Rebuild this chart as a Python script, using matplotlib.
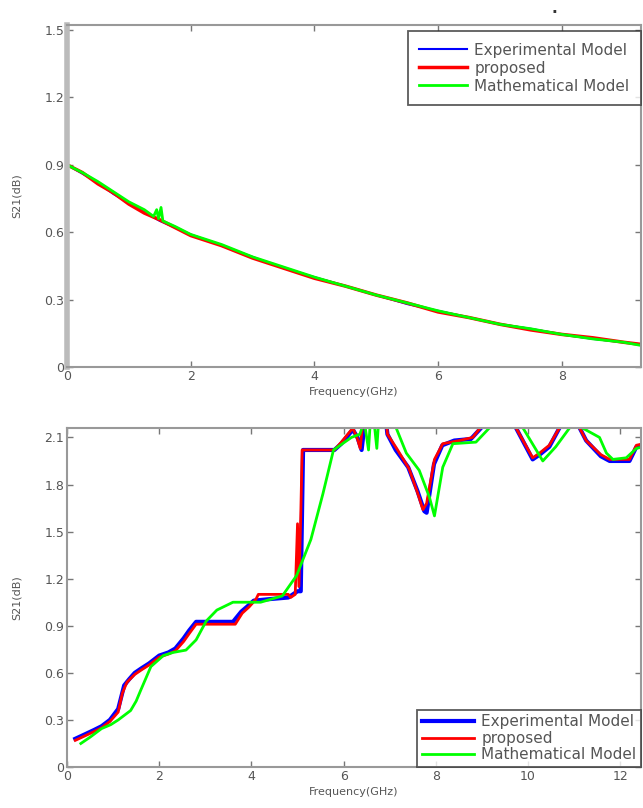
import matplotlib
matplotlib.use("Agg")
import matplotlib.pyplot as plt

# ---- top panel data (S21 vs frequency) ----
f_top = [0, 0.25, 0.5, 0.75, 1.0, 1.25, 1.5, 1.75, 2.0, 2.5, 3.0, 3.5, 4.0,
         4.5, 5.0, 5.5, 6.0, 6.5, 7.0, 7.5, 8.0, 8.5, 9.0, 9.3]
exp_top = [0.90, 0.86, 0.82, 0.77, 0.73, 0.69, 0.65, 0.62, 0.59, 0.54, 0.49, 0.44, 0.40,
           0.36, 0.32, 0.28, 0.25, 0.22, 0.19, 0.17, 0.145, 0.125, 0.11, 0.10]
prop_top = [0.90, 0.865, 0.815, 0.775, 0.725, 0.685, 0.655, 0.62, 0.585, 0.54, 0.485, 0.44, 0.395,
            0.36, 0.32, 0.285, 0.245, 0.22, 0.19, 0.165, 0.145, 0.13, 0.11, 0.10]
f_math_top = [0, 0.25, 0.5, 0.75, 1.0, 1.25, 1.4, 1.45, 1.48, 1.52, 1.55, 1.75, 2.0, 2.5,
              3.0, 3.5, 4.0, 4.5, 5.0, 5.5, 6.0, 6.5, 7.0, 7.5, 8.0, 8.5, 9.0, 9.3]
math_top = [0.90, 0.865, 0.825, 0.78, 0.735, 0.70, 0.67, 0.70, 0.66, 0.71, 0.65, 0.625, 0.59, 0.545,
            0.49, 0.445, 0.40, 0.36, 0.32, 0.285, 0.25, 0.22, 0.19, 0.17, 0.145, 0.125, 0.11, 0.095]

# ---- bottom panel data ----
f_exp = [0.18, 0.4, 0.58, 0.75, 0.93, 1.11, 1.24, 1.35, 1.47, 1.62, 1.78, 2.0, 2.2, 2.35,
         2.53, 2.65, 2.8, 3.6, 3.78, 3.9, 4.05, 4.4, 4.8, 5.0, 5.07, 5.12, 5.8, 5.95, 6.2,
         6.3, 6.39, 6.5, 6.88, 6.95, 7.13, 7.4, 7.6, 7.75, 7.8, 7.96, 8.14, 8.4, 8.76,
         8.98, 9.1, 9.65, 9.74, 10.1, 10.25, 10.46, 10.68, 10.8, 11.0, 11.12, 11.26,
         11.58, 11.77, 12.2, 12.35, 12.5]
s_exp = [0.18, 0.21, 0.235, 0.26, 0.30, 0.37, 0.52, 0.56, 0.60, 0.63, 0.66, 0.71, 0.73, 0.755,
         0.82, 0.87, 0.925, 0.925, 0.99, 1.02, 1.06, 1.07, 1.08, 1.12, 1.12, 2.02, 2.02, 2.06, 2.15,
         2.10, 2.02, 2.3, 2.3, 2.12, 2.02, 1.91, 1.76, 1.63, 1.62, 1.93, 2.05, 2.08, 2.09,
         2.16, 2.3, 2.3, 2.16, 1.96, 1.99, 2.04, 2.16, 2.3, 2.3, 2.16, 2.08,
         1.98, 1.95, 1.95, 2.04, 2.05]

f_prop = [0.18, 0.4, 0.58, 0.75, 0.93, 1.11, 1.2, 1.3, 1.47, 1.62, 1.78, 2.0, 2.2, 2.35,
          2.53, 2.65, 2.8, 3.65, 3.8, 3.95, 4.1, 4.15, 4.8, 4.85, 4.95, 5.0, 5.03, 5.07, 5.1,
          5.8, 5.95, 6.2, 6.3, 6.36, 6.45, 6.9, 6.95, 7.15, 7.42, 7.6, 7.72, 7.8, 7.97, 8.15,
          8.51, 8.8, 8.96, 9.1, 9.65, 9.74, 10.1, 10.25, 10.46, 10.68, 10.8, 11.0, 11.12,
          11.26, 11.58, 11.77, 12.2, 12.35, 12.5]
s_prop = [0.17, 0.20, 0.225, 0.25, 0.29, 0.35, 0.47, 0.54, 0.59, 0.62, 0.65, 0.70, 0.72, 0.74,
          0.80, 0.85, 0.91, 0.91, 0.98, 1.02, 1.07, 1.10, 1.10, 1.08, 1.10, 1.55, 1.15, 1.6, 2.02,
          2.02, 2.07, 2.16, 2.09, 2.03, 2.3, 2.3, 2.12, 2.03, 1.90, 1.75, 1.64, 1.68, 1.96, 2.06,
          2.08, 2.10, 2.16, 2.3, 2.3, 2.16, 1.97, 2.0, 2.05, 2.16, 2.3, 2.3, 2.16,
          2.08, 1.99, 1.96, 1.96, 2.05, 2.06]

f_math = [0.3, 0.5, 0.75, 0.95, 1.11, 1.38, 1.5, 1.6, 1.82, 2.09, 2.3, 2.58, 2.8, 3.02,
          3.25, 3.6, 4.2, 4.67, 4.98, 5.29, 5.55, 5.78, 6.17, 6.35, 6.45, 6.54, 6.6, 6.66,
          6.72, 6.78, 7.1, 7.14, 7.36, 7.64, 7.86, 7.97, 8.15, 8.37, 8.87, 9.16, 9.3, 9.8,
          9.89, 10.32, 10.6, 10.9, 11.0, 11.1, 11.18, 11.55, 11.7, 11.84, 12.13, 12.35, 12.5]
s_math = [0.15, 0.19, 0.245, 0.27, 0.30, 0.36, 0.42, 0.49, 0.64, 0.71, 0.73, 0.745, 0.81, 0.93,
          1.0, 1.05, 1.05, 1.09, 1.22, 1.45, 1.74, 2.02, 2.1, 2.12, 2.2, 2.02, 2.3, 2.2,
          2.03, 2.3, 2.3, 2.16, 2.0, 1.89, 1.72, 1.60, 1.91, 2.06, 2.07, 2.16, 2.3, 2.3,
          2.16, 1.95, 2.04, 2.16, 2.3, 2.3, 2.16, 2.1, 2.0, 1.96, 1.97, 2.03, 2.04]

names = ["Experimental Model", "proposed", "Mathematical Model"]
top_yticks = [0, 0.3, 0.6, 0.9, 1.2, 1.5]
bot_yticks = [0, 0.3, 0.6, 0.9, 1.2, 1.5, 1.8, 2.1]

grey = "#555555"
fig = plt.figure(figsize=(6.43, 8.08), dpi=100)
ax1 = fig.add_axes([0.1042, 0.5458, 0.8927, 0.4233])
ax2 = fig.add_axes([0.1042, 0.0507, 0.8927, 0.4196])


def style(ax):
    for s in ax.spines.values():
        s.set_color("#999999")
        s.set_linewidth(1.5)
    ax.tick_params(direction="in", top=True, right=True, length=4, width=1,
                   color="#777777", labelsize=9, labelcolor=grey, pad=2)
    ax.set_xlabel("Frequency(GHz)", fontsize=8, color=grey, labelpad=3)
    ax.set_ylabel("S21(dB)", fontsize=8, color=grey)
    ax.yaxis.set_label_coords(-0.078, 0.5)


def make_legend(ax, loc, anchor, hl, ls, bp):
    leg = ax.legend(loc=loc, bbox_to_anchor=anchor, fontsize=11, frameon=True,
                    fancybox=False, borderaxespad=0, handlelength=hl,
                    handletextpad=0.5, labelspacing=ls, borderpad=bp)
    leg.get_frame().set_edgecolor("#333333")
    leg.get_frame().set_linewidth(1.3)
    for t in leg.get_texts():
        t.set_color(grey)
    return leg


# top panel
ax1.plot(f_top, exp_top, color="#0000ff", lw=1.5, label=names[0])
ax1.plot(f_top, prop_top, color="#ff0000", lw=2.5, label=names[1])
ax1.plot(f_math_top, math_top, color="#00ff00", lw=2, label=names[2])
ax1.set_xlim(0, 9.28)
ax1.set_ylim(0, 1.522)
ax1.set_xticks([0, 2, 4, 6, 8])
ax1.set_yticks(top_yticks)
ax1.set_yticklabels(["0", "0.3", "0.6", "0.9", "1.2", "1.5"])
style(ax1)
ax1.spines["left"].set_linewidth(4)
ax1.spines["left"].set_color("#bbbbbb")
make_legend(ax1, "upper right", (1.0, 0.982), 3.1, 0.2, 0.75)

# bottom panel
ax2.plot(f_exp, s_exp, color="#0000ff", lw=3, label=names[0])
ax2.plot(f_prop, s_prop, color="#ff0000", lw=2, label=names[1])
ax2.plot(f_math, s_math, color="#00ff00", lw=2, label=names[2])
ax2.set_xlim(0, 12.45)
ax2.set_ylim(0, 2.16)
ax2.set_xticks([0, 2, 4, 6, 8, 10, 12])
ax2.set_yticks(bot_yticks)
ax2.set_yticklabels(["0", "0.3", "0.6", "0.9", "1.2", "1.5", "1.8", "2.1"])
style(ax2)
make_legend(ax2, "lower right", (1.0, 0.0), 3.4, 0.1, 0.3)

fig.text(0.862, 0.987, "\u25aa", fontsize=4, color="#333333", ha="center", va="center")

fig.savefig("out.png", dpi=100)
